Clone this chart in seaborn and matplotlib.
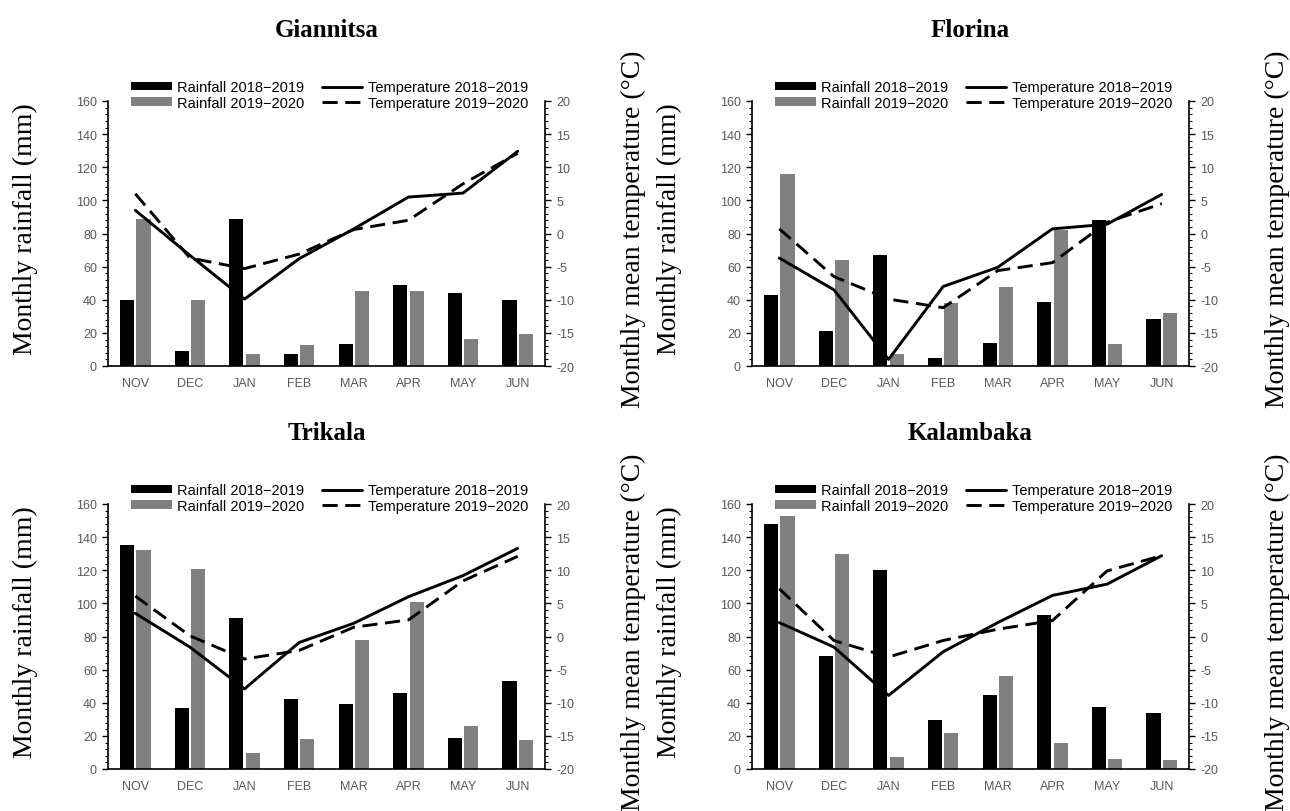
import numpy as np
import pandas as pd
import matplotlib
matplotlib.use("Agg")
import matplotlib.pyplot as plt
from matplotlib.ticker import MultipleLocator
import seaborn as sns

# ---- data -------------------------------------------------------------
months = ["NOV", "DEC", "JAN", "FEB", "MAR", "APR", "MAY", "JUN"]
rain_labels = ["Rainfall 2018\u22122019", "Rainfall 2019\u22122020"]
temp_labels = ["Temperature 2018\u22122019", "Temperature 2019\u22122020"]

giannitsa_rain_1819 = [40, 9, 89, 7, 13, 49, 44, 40]
giannitsa_rain_1920 = [88.5, 40, 7.5, 12.5, 45, 45, 16.5, 19.5]
giannitsa_temp_1819 = [3.5, -3.3, -9.9, -3.8, 0.7, 5.5, 6.1, 12.4]
giannitsa_temp_1920 = [6.0, -3.7, -5.3, -3.1, 0.6, 2.0, 7.5, 12.1]

florina_rain_1819 = [43, 21, 67, 5, 14, 38.5, 88, 28.5]
florina_rain_1920 = [116, 64, 7, 38, 47.5, 82, 13.5, 32]
florina_temp_1819 = [-3.7, -8.5, -19.0, -8.0, -5.1, 0.7, 1.4, 5.9]
florina_temp_1920 = [0.7, -6.5, -9.9, -11.2, -5.6, -4.4, 1.7, 4.5]

trikala_rain_1819 = [135, 37, 91, 42, 39, 46, 19, 53]
trikala_rain_1920 = [132.5, 121, 9.5, 18, 78, 101, 26, 17.5]
trikala_temp_1819 = [3.5, -1.6, -7.9, -0.9, 2.0, 6.0, 9.2, 13.3]
trikala_temp_1920 = [6.1, 0.1, -3.4, -2.1, 1.4, 2.5, 8.4, 12.1]

kalambaka_rain_1819 = [148, 68, 120, 29.5, 44.5, 93, 37.5, 34]
kalambaka_rain_1920 = [153, 130, 7, 22, 56, 16, 6, 5.5]
kalambaka_temp_1819 = [2.1, -1.6, -8.9, -2.3, 2.1, 6.2, 7.9, 12.2]
kalambaka_temp_1920 = [7.2, -0.6, -3.1, -0.6, 1.1, 2.4, 9.9, 12.2]

stations = [
    ("Giannitsa", giannitsa_rain_1819, giannitsa_rain_1920, giannitsa_temp_1819, giannitsa_temp_1920),
    ("Florina", florina_rain_1819, florina_rain_1920, florina_temp_1819, florina_temp_1920),
    ("Trikala", trikala_rain_1819, trikala_rain_1920, trikala_temp_1819, trikala_temp_1920),
    ("Kalambaka", kalambaka_rain_1819, kalambaka_rain_1920, kalambaka_temp_1819, kalambaka_temp_1920),
]

# ---- style ------------------------------------------------------------
sns.set_style("ticks")
plt.rcParams["font.family"] = ["Liberation Sans", "DejaVu Sans"]
plt.rcParams["axes.unicode_minus"] = False
plt.rcParams["text.color"] = "black"
SERIF = ["Liberation Serif", "DejaVu Serif"]
TICK_GREY = "#595959"

W, H = 1290, 812
fig = plt.figure(figsize=(W / 100, H / 100), dpi=100)

# panel placement in pixels: (left, top), width, height
panel_px = [(108, 102), (752, 102), (108, 505), (752, 505)]
pw, ph = 437, 265

for (name, r1, r2, t1, t2), (pl, pt) in zip(stations, panel_px):
    ax = fig.add_axes([pl / W, 1 - (pt + ph) / H, pw / W, ph / H])

    rain = pd.DataFrame({
        "month": months * 2,
        "rain": list(r1) + list(r2),
        "series": [rain_labels[0]] * len(months) + [rain_labels[1]] * len(months),
    })
    sns.barplot(data=rain, x="month", y="rain", hue="series", order=months,
                hue_order=rain_labels, palette=["#000000", "#808080"],
                saturation=1, width=0.6, gap=0.14, errorbar=None,
                linewidth=0, ax=ax)
    bar_leg = ax.get_legend()
    bar_handles = list(bar_leg.legend_handles)
    bar_names = [t.get_text() for t in bar_leg.get_texts()]
    bar_leg.remove()

    ax2 = ax.twinx()
    pos = np.arange(len(months))
    sns.lineplot(x=pos, y=t1, ax=ax2, color="black", linewidth=2.1,
                 label=temp_labels[0])
    sns.lineplot(x=pos, y=t2, ax=ax2, color="black", linewidth=2.1,
                 label=temp_labels[1])
    ax2.lines[1].set_dashes((5.2, 2.6))
    line_handles, line_names = ax2.get_legend_handles_labels()
    if ax2.get_legend() is not None:
        ax2.get_legend().remove()

    # axes limits and ticks
    ax.set_xlim(-0.5, len(months) - 0.5)
    ax.set_ylim(0, 160)
    ax.set_yticks(np.arange(0, 161, 20))
    ax.yaxis.set_minor_locator(MultipleLocator(4))
    ax2.set_ylim(-20, 20)
    ax2.set_yticks(np.arange(-20, 21, 5))
    ax2.yaxis.set_minor_locator(MultipleLocator(1))
    ax.set_xlabel("")
    ax.set_ylabel("")
    ax2.set_ylabel("")

    ax.tick_params(axis="x", length=0, pad=8, labelsize=9, labelcolor=TICK_GREY)
    for a in (ax, ax2):
        a.tick_params(axis="y", which="major", direction="out", length=4,
                      width=1, labelsize=9, labelcolor=TICK_GREY, pad=4,
                      color="black")
        a.tick_params(axis="y", which="minor", direction="out", length=2,
                      width=0.8, color="black")

    for s in ("top", "right"):
        ax.spines[s].set_visible(False)
    for s in ("top", "left", "bottom"):
        ax2.spines[s].set_visible(False)
    for a, s in ((ax, "left"), (ax, "bottom"), (ax2, "right")):
        a.spines[s].set_color("black")
        a.spines[s].set_linewidth(1.2)

    leg = ax2.legend(bar_handles + line_handles, bar_names + line_names, ncol=2,
                     loc="center", bbox_to_anchor=(0.508, 1.023), frameon=False,
                     fontsize=10.5, handlelength=2.75, handleheight=0.5,
                     handletextpad=0.4, columnspacing=1.2, labelspacing=0.1,
                     borderpad=0, borderaxespad=0)
    for t in leg.get_texts():
        t.set_color("black")

    ax.text(0.5, 1 + 72 / ph, name, transform=ax.transAxes, ha="center",
            va="center", fontsize=18, fontweight="bold", family=SERIF,
            color="black")

    # axis titles on both sides
    yc = pt + ph / 2 - 5
    fig.text((pl - 83) / W, 1 - yc / H, "Monthly rainfall (mm)",
             rotation=90, ha="center", va="center", fontsize=20, family=SERIF,
             color="black")
    fig.text((pl + pw + 88) / W, 1 - yc / H, "Monthly mean temperature (\u00b0C)",
             rotation=90, ha="center", va="center", fontsize=20, family=SERIF,
             color="black")

fig.savefig("out.png", dpi=100)
